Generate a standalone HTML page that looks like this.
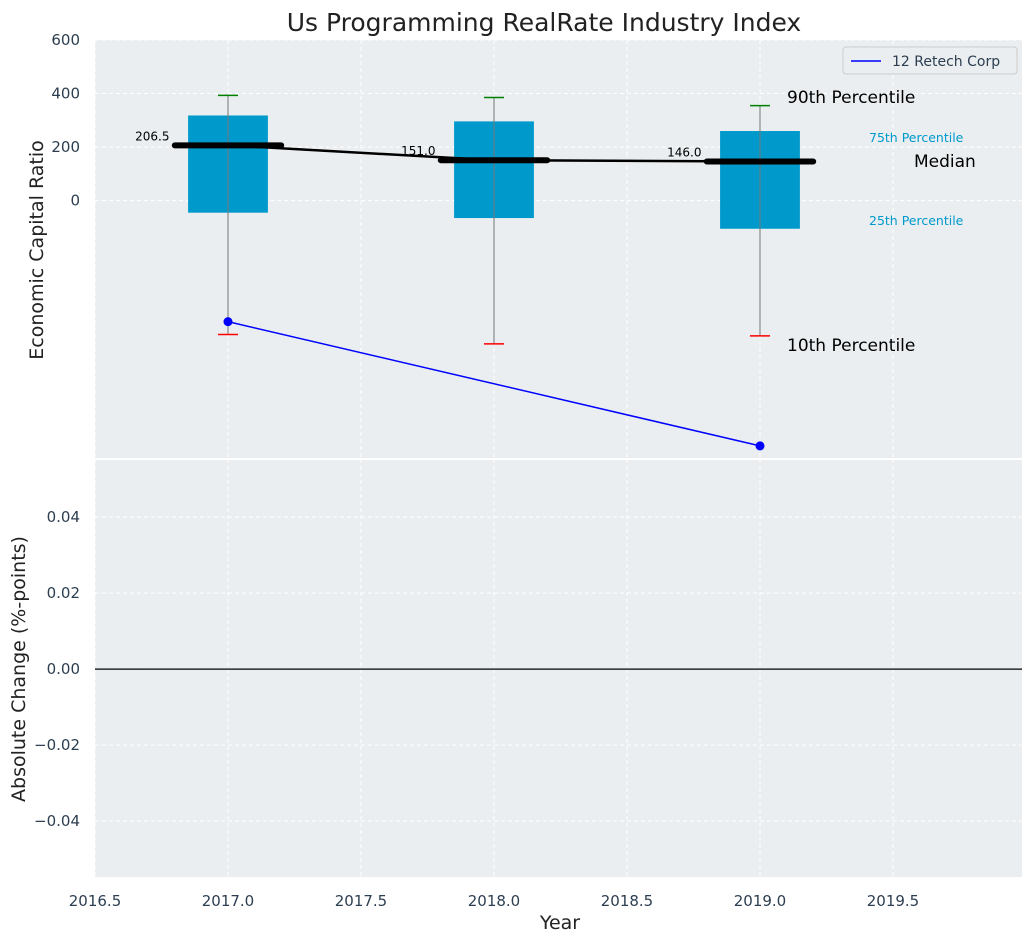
<!DOCTYPE html>
<html><head><meta charset="utf-8"><style>
body{margin:0;background:#fff;font-family:"Liberation Sans","DejaVu Sans",sans-serif}
svg text{font-family:"DejaVu Sans","Liberation Sans",sans-serif}
</style></head><body>
<svg id="chart" width="1034" height="942"></svg>
<script>
const years=[2017,2018,2019];
const p90=[393,385,355];
const p75=[318,296,260];
const median=[206.5,151,146];
const p25=[-45,-65,-105];
const p10=[-500,-535,-505];
const companyYears=[2017,2019];
const companyValues=[-452,-916];
const xTicks=[2016.5,2017,2017.5,2018,2018.5,2019,2019.5];
const topTicks=[0,200,400,600];
const botTicks=[-0.04,-0.02,0,0.02,0.04];

const NS="http://www.w3.org/2000/svg";
const svg=document.getElementById('chart');
const L=95,R=1022,T1=40,B1=459,T2=459,B2=877;
const x=v=>L+(v-2016.5)/(2019.985-2016.5)*(R-L);
const y1=v=>T1+(600-v)/(600+965)*(B1-T1);
const y2=v=>T2+(0.0553-v)/(0.0553+0.0547)*(B2-T2);
function el(tag,a,txt){const e=document.createElementNS(NS,tag);for(const k in a)e.setAttribute(k,a[k]);if(txt!==undefined)e.textContent=txt;svg.appendChild(e);return e;}

let e;
e=el('rect',{x:L,y:T1,width:R-L,height:B1-T1,fill:'#eaeef0'});


e=el('rect',{x:L,y:T2,width:R-L,height:B2-T2,fill:'#eaeef0'});


el('line',{x1:L,x2:R,y1:459,y2:459,stroke:'#fff','stroke-width':2});

xTicks.forEach(t=>{
  e=el('line',{x1:x(t),x2:x(t),y1:T1,y2:B1,stroke:'#fff','stroke-dasharray':'4,3'});
  
  
  e=el('line',{x1:x(t),x2:x(t),y1:T2,y2:B2,stroke:'#fff','stroke-dasharray':'4,3'});
  
  
  e=el('text',{x:x(t),y:906,'text-anchor':'middle','font-size':15,fill:'#2c3e50'},t.toFixed(1));
  
  
});
topTicks.forEach(t=>{
  e=el('line',{x1:L,x2:R,y1:y1(t),y2:y1(t),stroke:'#fff','stroke-dasharray':'4,3'});
  
  
  e=el('text',{x:80,y:y1(t)+5,'text-anchor':'end','font-size':15,fill:'#2c3e50'},String(t));
  
  
});
botTicks.forEach(t=>{
  e=el('line',{x1:L,x2:R,y1:y2(t),y2:y2(t),stroke:'#fff','stroke-dasharray':'4,3'});
  
  
  e=el('text',{x:80,y:y2(t)+5,'text-anchor':'end','font-size':15,fill:'#2c3e50'},(t<0?'\u22120':'0')+Math.abs(t).toFixed(2).slice(1));
  
  
});
e=el('line',{x1:L,x2:R,y1:y2(0),y2:y2(0),stroke:'#000','stroke-width':1.2});



years.forEach((yr,i)=>{
  e=el('rect',{x:x(yr-0.15),y:y1(p75[i]),width:x(yr+0.15)-x(yr-0.15),height:y1(p25[i])-y1(p75[i]),fill:'#0099cc'});
  
  
  e=el('line',{x1:x(yr),x2:x(yr),y1:y1(p90[i]),y2:y1(p10[i]),stroke:'#777','stroke-width':1});
  
  
  e=el('line',{x1:x(yr)-10,x2:x(yr)+10,y1:y1(p90[i]),y2:y1(p90[i]),stroke:'green','stroke-width':1.5});
  
  
  e=el('line',{x1:x(yr)-10,x2:x(yr)+10,y1:y1(p10[i]),y2:y1(p10[i]),stroke:'red','stroke-width':1.5});
  
  
  e=el('line',{x1:x(yr-0.2),x2:x(yr+0.2),y1:y1(median[i]),y2:y1(median[i]),stroke:'#000','stroke-width':6,'stroke-linecap':'round'});
  
  
  e=el('text',{x:x(yr-0.22),y:y1(median[i])-5,'text-anchor':'end','font-size':12,fill:'#000'},median[i].toFixed(1));
  
  
});
e=el('polyline',{points:years.map((yr,i)=>x(yr)+','+y1(median[i])).join(' '),fill:'none',stroke:'#000','stroke-width':2.5});


e=el('polyline',{points:companyYears.map((yr,i)=>x(yr)+','+y1(companyValues[i])).join(' '),fill:'none',stroke:'blue','stroke-width':1.5});


companyYears.forEach((yr,i)=>{
  e=el('circle',{cx:x(yr),cy:y1(companyValues[i]),r:4.5,fill:'blue'});
  
  
});

const ann=[["90th Percentile",787,103,17,'#000'],["75th Percentile",869,142,12.5,'#0099cc'],["Median",914,167,17,'#000'],["25th Percentile",869,225,12.5,'#0099cc'],["10th Percentile",787,351,17,'#000']];
ann.forEach(a=>{
  e=el('text',{x:a[1],y:a[2],'font-size':a[3],fill:a[4]},a[0]);
  
  
});

e=el('rect',{x:843,y:47,width:174,height:27,rx:3,fill:'#eaeef0',stroke:'#ccc'});


el('line',{x1:851,x2:881,y1:61,y2:61,stroke:'blue','stroke-width':1.5});
e=el('text',{x:892,y:66,'font-size':14,fill:'#2c3e50'},'12 Retech Corp');



e=el('text',{x:544,y:31,'text-anchor':'middle','font-size':25,fill:'#222'},'Us Programming RealRate Industry Index');


e=el('text',{x:560,y:929,'text-anchor':'middle','font-size':19,fill:'#222'},'Year');


e=el('text',{x:0,y:0,'text-anchor':'middle','font-size':19,fill:'#222',transform:'translate(43,250) rotate(-90)'},'Economic Capital Ratio');


e=el('text',{x:0,y:0,'text-anchor':'middle','font-size':19,fill:'#222',transform:'translate(25,669) rotate(-90)'},'Absolute Change (%-points)');


</script>
</body></html>
